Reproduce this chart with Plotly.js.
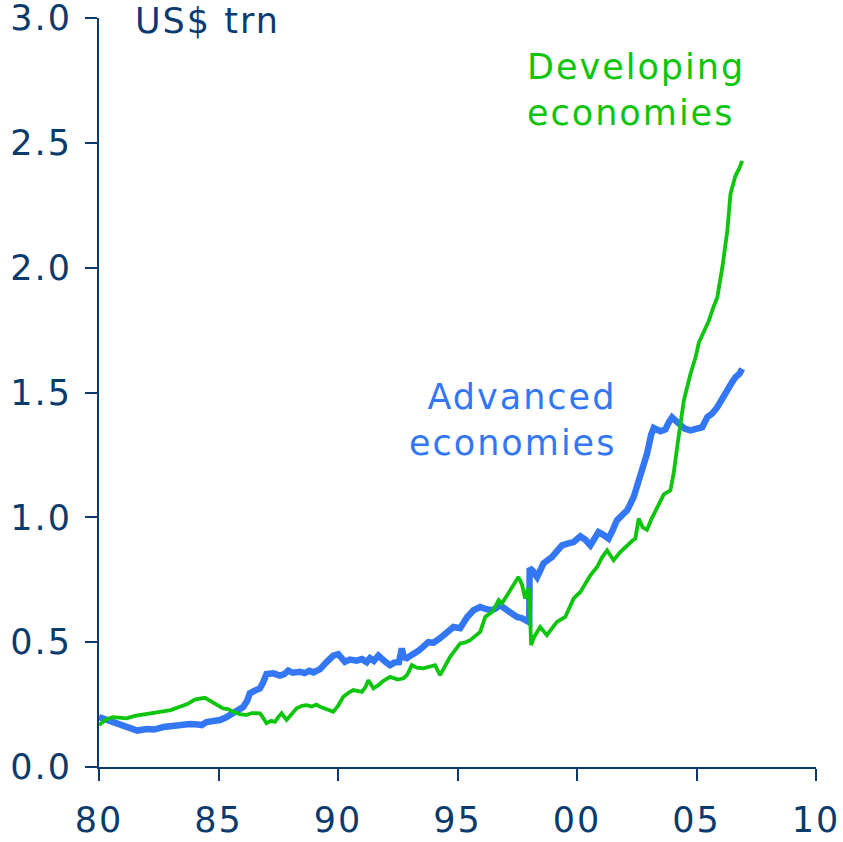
<!DOCTYPE html>
<html>
<head>
<meta charset="utf-8">
<script src="https://cdn.plot.ly/plotly-3.0.1.min.js"></script>
<style>
  html, body { margin: 0; padding: 0; background: #ffffff; }
  #chart { width: 843px; height: 842px; }
  #chart text { letter-spacing: 2px; }
</style>
</head>
<body>
<div id="chart"></div>
<script>
// ---- Data ----
const advYears = [1980.0,1980.3,1980.6,1981.0,1981.3,1981.6,1982.0,1982.3,1982.7,1983.0,1983.4,1983.8,1984.15,1984.3,1984.5,1984.8,1985.06,1985.3,1985.6,1985.85,1986.03,1986.2,1986.31,1986.5,1986.73,1986.85,1987.01,1987.3,1987.57,1987.75,1987.92,1988.1,1988.41,1988.6,1988.8,1988.97,1989.25,1989.5,1989.8,1990.01,1990.15,1990.29,1990.5,1990.78,1991.0,1991.2,1991.34,1991.5,1991.69,1991.85,1992.0,1992.18,1992.35,1992.55,1992.67,1992.75,1992.88,1993.1,1993.4,1993.78,1994.0,1994.27,1994.5,1994.83,1995.11,1995.4,1995.67,1995.95,1996.2,1996.44,1996.6,1996.79,1997.07,1997.3,1997.49,1997.7,1997.91,1998.0,1998.02,1998.15,1998.33,1998.6,1998.95,1999.2,1999.37,1999.6,1999.86,2000.14,2000.35,2000.56,2000.9,2001.1,2001.32,2001.5,2001.67,2001.9,2002.1,2002.37,2002.5,2002.65,2002.93,2003.1,2003.21,2003.49,2003.7,2003.84,2003.98,2004.15,2004.33,2004.5,2004.75,2005.0,2005.24,2005.45,2005.65,2005.87,2006.1,2006.29,2006.45,2006.63,2006.8,2006.91];
const advValues = [0.200,0.190,0.175,0.162,0.155,0.146,0.152,0.150,0.160,0.165,0.170,0.172,0.170,0.168,0.180,0.182,0.188,0.198,0.214,0.226,0.240,0.265,0.295,0.305,0.315,0.335,0.372,0.375,0.366,0.372,0.386,0.378,0.381,0.376,0.385,0.379,0.392,0.418,0.446,0.452,0.440,0.421,0.430,0.426,0.432,0.420,0.436,0.425,0.446,0.430,0.420,0.408,0.418,0.420,0.475,0.440,0.436,0.450,0.468,0.500,0.498,0.516,0.535,0.561,0.556,0.600,0.628,0.641,0.632,0.628,0.635,0.648,0.628,0.610,0.601,0.596,0.588,0.580,0.796,0.785,0.761,0.816,0.841,0.870,0.888,0.895,0.901,0.924,0.910,0.888,0.941,0.930,0.915,0.950,0.988,1.010,1.028,1.081,1.120,1.175,1.255,1.330,1.358,1.345,1.352,1.380,1.400,1.385,1.368,1.355,1.348,1.352,1.361,1.401,1.415,1.441,1.480,1.521,1.535,1.561,1.575,1.595];

const devYears = [1980.0,1980.3,1980.59,1980.9,1981.15,1981.5,1981.99,1982.3,1982.68,1983.0,1983.38,1983.7,1984.0,1984.2,1984.43,1984.6,1984.78,1985.0,1985.19,1985.4,1985.61,1985.9,1986.17,1986.4,1986.73,1986.85,1987.01,1987.2,1987.36,1987.5,1987.64,1987.85,1988.05,1988.27,1988.5,1988.69,1988.9,1989.1,1989.25,1989.5,1989.8,1990.0,1990.22,1990.45,1990.64,1991.0,1991.15,1991.27,1991.48,1991.69,1991.9,1992.18,1992.5,1992.74,1992.9,1993.09,1993.3,1993.57,1993.8,1994.06,1994.27,1994.5,1994.69,1995.11,1995.3,1995.53,1995.95,1996.16,1996.44,1996.6,1996.72,1996.86,1997.2,1997.4,1997.55,1997.7,1997.83,1997.95,1998.0,1998.08,1998.2,1998.46,1998.74,1998.95,1999.16,1999.51,1999.7,1999.86,2000.14,2000.35,2000.56,2000.84,2001.05,2001.26,2001.53,2001.8,2002.02,2002.3,2002.44,2002.58,2002.75,2002.93,2003.1,2003.35,2003.63,2003.91,2004.05,2004.19,2004.33,2004.47,2004.75,2004.96,2005.1,2005.24,2005.52,2005.7,2005.87,2006.08,2006.29,2006.42,2006.63,2006.8,2006.91];
const devValues = [0.168,0.190,0.200,0.198,0.195,0.205,0.212,0.215,0.221,0.228,0.241,0.252,0.270,0.272,0.277,0.268,0.257,0.245,0.235,0.232,0.221,0.212,0.208,0.216,0.215,0.200,0.175,0.185,0.181,0.200,0.215,0.188,0.210,0.235,0.245,0.248,0.242,0.250,0.241,0.232,0.221,0.245,0.281,0.298,0.308,0.301,0.320,0.348,0.315,0.328,0.345,0.361,0.350,0.355,0.370,0.408,0.398,0.395,0.400,0.408,0.368,0.410,0.441,0.495,0.498,0.508,0.541,0.601,0.621,0.645,0.668,0.655,0.708,0.735,0.761,0.730,0.675,0.715,0.708,0.488,0.520,0.561,0.528,0.555,0.581,0.601,0.640,0.675,0.701,0.735,0.768,0.801,0.840,0.868,0.828,0.860,0.881,0.905,0.915,0.995,0.960,0.950,0.990,1.041,1.092,1.108,1.180,1.281,1.380,1.468,1.575,1.641,1.700,1.728,1.788,1.840,1.881,2.001,2.148,2.295,2.368,2.400,2.428];

const xTickVals = [1980, 1985, 1990, 1995, 2000, 2005, 2010];
const xTickText = ['80', '85', '90', '95', '00', '05', '10'];
const yTickVals = [0, 0.5, 1.0, 1.5, 2.0, 2.5, 3.0];
const yTickText = ['0.0', '0.5', '1.0', '1.5', '2.0', '2.5', '3.0'];

const seriesNames = ['Advanced<br>economies', 'Developing<br>economies'];
const unitLabel = 'US$ trn';

// ---- Styles ----
const navy = '#0b3a6c';
const blue = '#3477f5';
const green = '#0cc50c';
const fontFamily = 'DejaVu Sans, Verdana, sans-serif';

const traces = [
  { x: advYears, y: advValues, type: 'scatter', mode: 'lines', name: 'Advanced economies',
    line: { color: blue, width: 6.5 }, hoverinfo: 'skip' },
  { x: devYears, y: devValues, type: 'scatter', mode: 'lines', name: 'Developing economies',
    line: { color: green, width: 3.8 }, hoverinfo: 'skip' }
];

const layout = {
  width: 843, height: 842,
  margin: { l: 99, r: 27, t: 18, b: 75, pad: 0 },
  paper_bgcolor: '#ffffff', plot_bgcolor: '#ffffff',
  showlegend: false,
  font: { family: fontFamily, size: 35, color: navy },
  xaxis: {
    range: [1980, 2010], tickmode: 'array', tickvals: xTickVals, ticktext: xTickText,
    showgrid: false, zeroline: false, showline: true, linecolor: navy, linewidth: 2,
    ticks: 'outside', ticklen: 12, tickwidth: 2, tickcolor: navy,
    tickfont: { family: fontFamily, size: 35, color: navy }, ticklabelstandoff: 9,
    ticklabeloverflow: 'allow'
  },
  yaxis: {
    range: [0, 3], tickmode: 'array', tickvals: yTickVals, ticktext: yTickText,
    showgrid: false, zeroline: false, showline: true, linecolor: navy, linewidth: 2,
    ticks: 'outside', ticklen: 12, tickwidth: 2, tickcolor: navy,
    tickfont: { family: fontFamily, size: 35, color: navy }, ticklabelstandoff: 6,
    ticklabeloverflow: 'allow'
  },
  annotations: [
    { text: unitLabel, xref: 'paper', yref: 'paper', x: 0.057, y: 0.996,
      xanchor: 'left', yanchor: 'middle', showarrow: false,
      font: { family: fontFamily, size: 35, color: navy } },
    { text: seriesNames[1], xref: 'paper', yref: 'paper', x: 0.594, y: 0.904,
      xanchor: 'left', yanchor: 'middle', align: 'left', showarrow: false,
      font: { family: fontFamily, size: 35, color: green } },
    { text: seriesNames[0], xref: 'paper', yref: 'paper', x: 0.724, y: 0.463,
      xanchor: 'right', yanchor: 'middle', align: 'right', showarrow: false,
      font: { family: fontFamily, size: 35, color: blue } }
  ]
};

Plotly.newPlot('chart', traces, layout, { staticPlot: true, displayModeBar: false });
</script>
</body>
</html>
